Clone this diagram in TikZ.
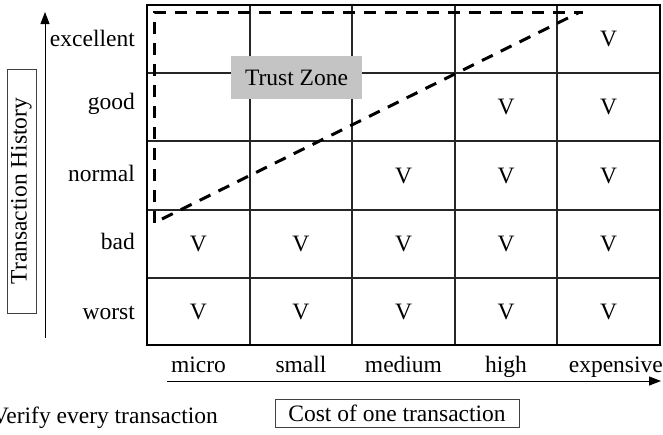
\documentclass[tikz,border=0pt]{standalone}
\usepackage{fontspec}
\setmainfont{Liberation Serif}
\usetikzlibrary{arrows.meta}
\definecolor{trustgray}{RGB}{196,196,196}
\begin{document}
\begin{tikzpicture}[x=1pt,y=-1pt,
  lbl/.style={font=\fontsize{23.5}{28}\selectfont, inner sep=0pt},
  thinbox/.style={draw=black!75, line width=0.9pt},
  gridline/.style={line width=1.2pt, draw=black!85},
  dashline/.style={line width=3pt, dash pattern=on 12pt off 9pt},
  axis/.style={line width=1pt, -{Triangle[length=12pt,width=9pt]}}
]
\useasboundingbox (0,0) rectangle (663,434);
% grid
\foreach \x in {250,352,455,557} \draw[gridline] (\x,5) -- (\x,345);
\foreach \y in {73,141,210,278} \draw[gridline] (147,\y) -- (660,\y);
\draw[line width=2.6pt] (147,5) rectangle (660,345);
% V marks
\foreach \r/\y/\cs in {1/39/{5}, 2/107/{4,5}, 3/175.5/{3,4,5}, 4/244/{1,2,3,4,5}, 5/311.5/{1,2,3,4,5}}{
  \foreach \c in \cs {
    \node[lbl] (v-\r-\c) at ({147+102.6*(\c-0.5)},\y) {V};
  }
}
% dashed trust zone boundary
\coordinate (d1) at (154,222.5);
\coordinate (d2) at (154,12);
\coordinate (d3) at (583,12);
\coordinate (d4) at (162,219);
\coordinate (d5) at (579,12.5);
\draw[dashline] (d1) -- (d2) -- (d3);
\draw[dashline] (d4) -- (d5);
% Trust Zone label
\node[lbl, fill=trustgray, minimum width=131pt, minimum height=43pt] (tz) at (296.5,77.5) {Trust Zone};
% row labels
\node[lbl, anchor=base east] (r1) at (135,46.7) {excellent};
\node[lbl, anchor=base east] (r2) at (135,109) {good};
\node[lbl, anchor=base east] (r3) at (135,181.7) {normal};
\node[lbl, anchor=base east] (r4) at (135,249) {bad};
\node[lbl, anchor=base east] (r5) at (135,319) {worst};
% column labels
\node[lbl, anchor=base] (c1) at (198.5,372) {micro};
\node[lbl, anchor=base] (c2) at (301,372) {small};
\node[lbl, anchor=base] (c3) at (403.5,372) {medium};
\node[lbl, anchor=base] (c4) at (506,372) {high};
\node[lbl, anchor=base east] (c5) at (663,372) {expensive};
% axes
\coordinate (ya0) at (45,338);
\coordinate (ya1) at (45,12);
\draw[axis] (ya0) -- (ya1);
\coordinate (xa0) at (167,381);
\coordinate (xa1) at (661,381);
\draw[axis] (xa0) -- (xa1);
% axis titles
\node[lbl, thinbox, rotate=90, minimum width=244pt, minimum height=29pt] (th) at (21.5,191) {Transaction History};
\node[lbl, thinbox, minimum width=244pt, minimum height=28pt] (ct) at (397,413) {Cost of one transaction};
\node[lbl, anchor=base east] (vt) at (218,423) {Verify every transaction};
\end{tikzpicture}
\end{document}
